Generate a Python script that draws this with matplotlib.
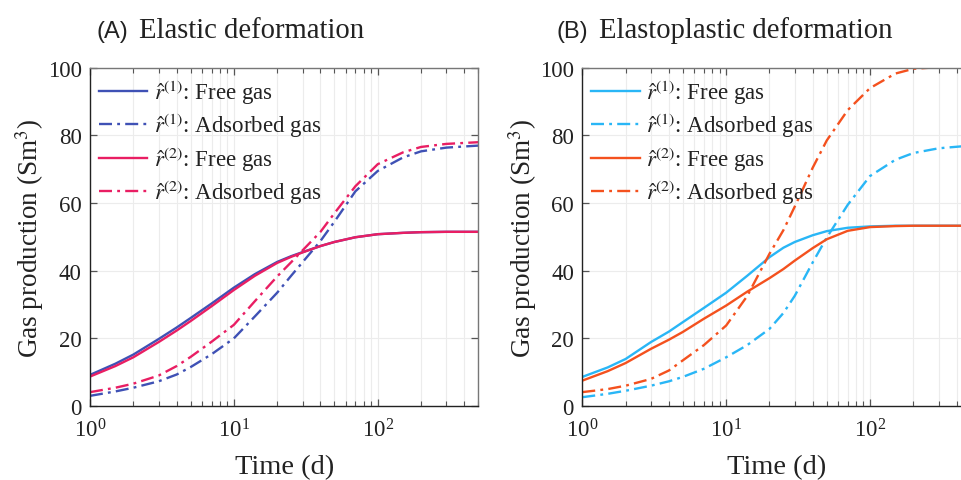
import matplotlib
matplotlib.use('Agg')
import matplotlib.pyplot as plt

plt.rcParams['font.family'] = ['Liberation Serif', 'DejaVu Serif']
plt.rcParams['mathtext.fontset'] = 'stix'

# time (d), read at log-spaced points
t = [1, 1.5, 2, 3, 4, 5, 7, 10, 14, 20, 25, 30, 40, 50, 70, 100, 150, 200, 300, 500]

# (A) elastic deformation
a_free_1 = [9.2, 12.5, 15.2, 19.8, 23.2, 26.0, 30.3, 35.0, 39.0, 42.6, 44.3, 45.5, 47.3, 48.5, 49.9, 50.8, 51.2, 51.4, 51.5, 51.5]
a_ads_1 = [3.0, 4.3, 5.4, 7.3, 9.3, 11.5, 15.3, 20.0, 26.5, 33.5, 38.5, 42.5, 48.8, 54.5, 63.5, 69.5, 73.5, 75.3, 76.4, 77.0]
a_free_2 = [8.7, 11.8, 14.4, 18.9, 22.3, 25.1, 29.5, 34.3, 38.5, 42.3, 44.1, 45.4, 47.3, 48.5, 49.9, 50.8, 51.2, 51.4, 51.5, 51.5]
a_ads_2 = [4.1, 5.4, 6.6, 9.0, 11.8, 14.5, 19.0, 24.0, 31.0, 38.3, 42.5, 46.0, 51.5, 57.0, 65.0, 71.5, 75.0, 76.6, 77.5, 78.0]

# (B) elastoplastic deformation
b_free_1 = [8.6, 11.4, 13.9, 18.9, 22.0, 24.8, 29.0, 33.5, 38.5, 44.0, 46.8, 48.5, 50.5, 51.7, 52.7, 53.1, 53.3, 53.3, 53.3, 53.3]
b_ads_1 = [2.6, 3.6, 4.5, 6.0, 7.3, 8.6, 11.0, 14.4, 18.0, 22.8, 27.5, 32.6, 42.5, 49.8, 59.5, 68.0, 72.8, 74.8, 76.2, 77.0]
b_free_2 = [7.5, 10.3, 12.7, 16.9, 19.6, 21.9, 25.8, 29.7, 33.8, 37.8, 40.5, 43.0, 46.7, 49.3, 51.8, 52.9, 53.2, 53.3, 53.3, 53.3]
b_ads_2 = [4.1, 5.0, 6.0, 8.0, 10.5, 13.5, 18.0, 23.8, 32.5, 45.0, 52.0, 59.0, 70.5, 78.5, 87.5, 94.0, 98.3, 99.7, 100.2, 100.3]

labels = [r'$\hat{r}^{(1)}$: Free gas', r'$\hat{r}^{(1)}$: Adsorbed gas',
          r'$\hat{r}^{(2)}$: Free gas', r'$\hat{r}^{(2)}$: Adsorbed gas']

dashdot = (0, (5.5, 2.2, 1.2, 2.2))
ink = '#222222'

fig = plt.figure(figsize=(9.61, 4.81), dpi=100)
ax1 = fig.add_axes([90 / 961, 1 - 407 / 481, 388.3 / 961, 338.2 / 481])
ax2 = fig.add_axes([582.3 / 961, 1 - 407 / 481, 388.3 / 961, 338.2 / 481])


def draw_panel(ax, series, colors):
    (f1, d1, f2, d2) = series
    ax.plot(t, f1, color=colors[0], lw=1.7, label=labels[0])
    ax.plot(t, d1, color=colors[0], lw=1.7, ls=dashdot, label=labels[1])
    ax.plot(t, f2, color=colors[1], lw=1.7, label=labels[2])
    ax.plot(t, d2, color=colors[1], lw=1.7, ls=dashdot, label=labels[3])
    ax.set_xscale('log')
    ax.set_xlim(1, 500)
    ax.set_ylim(0, 100)
    ax.set_yticks([0, 20, 40, 60, 80, 100])
    ax.grid(True, which='major', color='#ececec', lw=0.8)
    ax.grid(True, which='minor', axis='x', color='#ececec', lw=0.8)
    ax.set_axisbelow(True)
    ax.tick_params(which='both', direction='in', top=True, right=True,
                   labelsize=16.5, colors='#555555', labelcolor=ink)
    ax.tick_params(which='major', length=5, width=0.9)
    ax.tick_params(which='minor', length=3.5, width=0.8)
    ax.tick_params(axis='x', which='major', pad=9)
    ax.tick_params(axis='y', which='major', pad=6)
    for s in ax.spines.values():
        s.set_color('#777777')
        s.set_linewidth(1.0)
    ax.spines['left'].set_color(ink)
    ax.spines['bottom'].set_color(ink)
    ax.set_xlabel('Time (d)', fontsize=20.5, color=ink, labelpad=9)
    ax.set_ylabel(r'Gas production (Sm$^3$)', fontsize=19.5, color=ink, labelpad=1)
    ax.legend(loc='upper left', frameon=False, fontsize=16.5, handlelength=2.1,
              handletextpad=0.3, labelspacing=0.2, borderaxespad=0.1,
              borderpad=0.3, labelcolor=ink)


draw_panel(ax1, (a_free_1, a_ads_1, a_free_2, a_ads_2), ['#3f51b5', '#e91e63'])
draw_panel(ax2, (b_free_1, b_ads_1, b_free_2, b_ads_2), ['#29b6f6', '#f4511e'])

# panel titles: letter in sans, text in serif
fig.text(97 / 961, 1 - 38 / 481, '(A)', family='Liberation Sans', fontsize=17, color=ink)
fig.text(139 / 961, 1 - 38 / 481, 'Elastic deformation', fontsize=20.6, color=ink)
fig.text(557 / 961, 1 - 38 / 481, '(B)', family='Liberation Sans', fontsize=17, color=ink)
fig.text(599 / 961, 1 - 38 / 481, 'Elastoplastic deformation', fontsize=20.6, color=ink)

fig.savefig('out.png', dpi=100)
